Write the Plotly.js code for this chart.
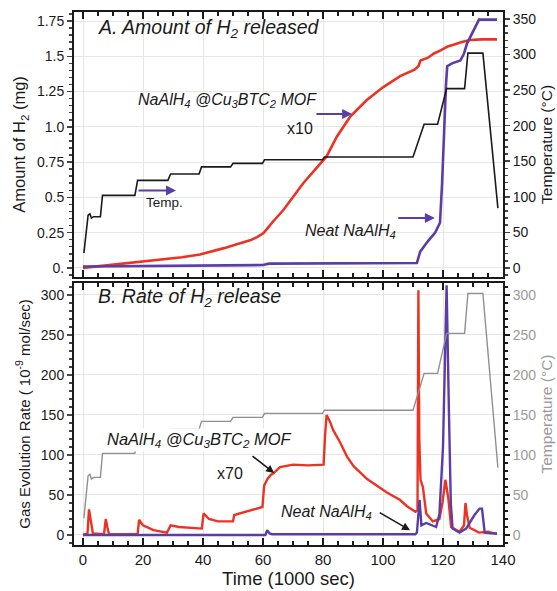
<!DOCTYPE html>
<html>
<head>
<meta charset="utf-8">
<script src="https://cdn.plot.ly/plotly-3.0.1.min.js"></script>
<style>html,body{margin:0;padding:0;background:#fff;}#chart{width:557px;height:591px;}</style>
</head>
<body>
<div id="chart"></div>
<script>
// ---------- DATA ----------
// Temperature program (°C) vs time (1000 s)
const tempTime = [0.3, 1.7, 2.3, 2.8, 3.5, 5.8, 6.5, 17.3, 18.2, 28.3, 29.2, 38.7, 39.5, 49.2, 50, 59.8, 60.5, 79.8, 80.5, 110, 113.7, 118.2, 121.2, 127.2, 128.3, 133.3, 138.3];
const tempVal  = [21, 74, 76, 70, 72, 72, 102, 102, 123, 123, 132, 132, 142, 142, 147, 147, 152, 152, 156, 156, 202, 202, 252, 252, 302, 302, 84];

// Panel A: amount of H2 released (mg)
const mofAmtTime = [0, 5, 10, 17, 25, 33, 39, 43, 47, 51, 55.7, 58, 60.1, 61.5, 63, 66.8, 70, 73.4, 77.5, 81.2, 84.6, 89, 94.6, 100, 105.7, 110.5, 111.8, 112.5, 115, 117, 119.5, 121.6, 124, 126, 129, 133, 138];
const mofAmt     = [0.0, 0.012, 0.022, 0.04, 0.055, 0.075, 0.095, 0.115, 0.14, 0.165, 0.195, 0.218, 0.245, 0.28, 0.32, 0.41, 0.5, 0.6, 0.7, 0.79, 0.93, 1.07, 1.19, 1.28, 1.36, 1.405, 1.43, 1.47, 1.49, 1.52, 1.545, 1.57, 1.585, 1.6, 1.615, 1.62, 1.62];

const neatAmtTime = [0, 20, 40, 60, 62, 80, 100, 111.3, 112.4, 115, 117.4, 119, 119.7, 120.3, 121, 121.4, 123, 125.8, 127, 128, 130, 132, 134, 138];
const neatAmt     = [0.01, 0.012, 0.015, 0.02, 0.03, 0.032, 0.034, 0.035, 0.115, 0.19, 0.25, 0.32, 0.6, 0.95, 1.3, 1.43, 1.45, 1.47, 1.52, 1.59, 1.68, 1.76, 1.76, 1.76];

// Panel B: gas evolution rate (1e-9 mol/s)
const mofRateTime = [0, 1.5, 2, 2.5, 3.3, 7, 7.6, 8.2, 8.7, 18.2, 18.7, 20, 23.5, 28, 29.2, 32, 38, 39.6, 40.2, 42, 45, 50, 50.4, 55, 59.8, 60.4, 61.5, 62.6, 63.5, 65.7, 70, 75, 80.2, 80.7, 81.2, 82.3, 83.4, 85.8, 88, 90.2, 94.7, 101.3, 105.6, 108, 110.8, 111.5, 111.8, 112.1, 112.5, 113.3, 114.4, 116.6, 118.8, 119.8, 120.8, 121.8, 122.7, 125.5, 127, 127.5, 128, 128.9, 132, 135, 138];
const mofRate     = [0, 2, 32, 20, 2, 1, 20, 8, 1, 1, 19, 12, 6, 3, 12, 10, 8, 8, 27, 20, 17, 17, 25, 30, 35, 62, 70, 75, 77, 85, 88, 87, 88, 125, 150, 142, 131, 115, 98, 86, 70, 53, 44, 36, 29, 31, 306, 120, 69, 60, 27, 17, 20, 40, 69, 45, 10, 4, 12, 40, 25, 9, 3, 4, 1];

const neatRateTime = [0, 60.8, 61.4, 62.2, 63, 80, 100, 110.8, 111.3, 112.2, 112.8, 114.4, 117.7, 118.8, 120, 121.2, 122, 122.6, 123.2, 125.5, 127.7, 130.5, 132.2, 133, 133.9, 136, 138];
const neatRate     = [0, 0, 6, 2, 1, 1, 1, 1, 3, 44, 12, 15, 10, 26, 110, 312, 150, 40, 8, 3, 8, 25, 33, 33, 3, 2, 2];

const xTicks = [0, 20, 40, 60, 80, 100, 120, 140];
const amtTickVals = [0, 0.25, 0.5, 0.75, 1.0, 1.25, 1.5, 1.75];
const amtTickText = ['0.', '0.25', '0.5', '0.75', '1.0', '1.25', '1.5', '1.75'];
const tempTicksA = [0, 50, 100, 150, 200, 250, 300, 350];
const rateTicks = [0, 50, 100, 150, 200, 250, 300];

// ---------- STYLE ----------
const RED = '#ec3323', PURPLE = '#5a3ea6', BLACK = '#1a1a1a', GRAY = '#8f8f8f', LGRAY = '#9a9a9a';
const FONT = 'Liberation Sans, Arial, Helvetica, sans-serif';
const GRID = '#e6e6e6';

const traces = [
  {x: mofAmtTime, y: mofAmt, xaxis: 'x', yaxis: 'y', mode: 'lines', line: {color: RED, width: 2.6}},
  {x: neatAmtTime, y: neatAmt, xaxis: 'x', yaxis: 'y', mode: 'lines', line: {color: PURPLE, width: 2.6}},
  {x: tempTime, y: tempVal, xaxis: 'x', yaxis: 'y2', mode: 'lines', line: {color: BLACK, width: 1.6}},
  {x: mofRateTime, y: mofRate, xaxis: 'x2', yaxis: 'y3', mode: 'lines', line: {color: RED, width: 2.4}},
  {x: neatRateTime, y: neatRate, xaxis: 'x2', yaxis: 'y3', mode: 'lines', line: {color: PURPLE, width: 2.4}},
  {x: tempTime, y: tempVal, xaxis: 'x2', yaxis: 'y4', mode: 'lines', line: {color: GRAY, width: 1.4}}
];

const xCommon = {
  range: [-3, 140], tickvals: xTicks, showgrid: true, gridcolor: GRID, gridwidth: 1,
  zeroline: false, showline: true, linecolor: BLACK, linewidth: 2, mirror: 'ticks',
  ticks: 'inside', ticklen: 7, tickwidth: 1.5, tickcolor: BLACK,
  minor: {dtick: 5, tick0: 0, ticks: 'inside', ticklen: 4, tickcolor: BLACK, showgrid: false}
};

const layout = {
  width: 557, height: 591,
  margin: {l: 74, r: 54, t: 12, b: 46},
  paper_bgcolor: '#fff', plot_bgcolor: '#fff',
  showlegend: false,
  font: {family: FONT, color: BLACK, size: 14},
  xaxis: Object.assign({}, xCommon, {anchor: 'y', showticklabels: false, domain: [0, 1]}),
  xaxis2: Object.assign({}, xCommon, {anchor: 'y3', domain: [0, 1], showticklabels: true,
    tickfont: {size: 15, color: BLACK},
    title: {text: 'Time (1000 sec)', font: {size: 18.5, color: BLACK}, standoff: 5}}),
  yaxis: {
    domain: [0.503, 1], anchor: 'x', range: [-0.064, 1.814],
    tickvals: amtTickVals, ticktext: amtTickText, tickfont: {size: 14},
    showgrid: true, gridcolor: GRID, zeroline: false,
    showline: true, linecolor: BLACK, linewidth: 2, ticks: 'outside', ticklen: 5, tickwidth: 1.5,
    minor: {dtick: 0.05, tick0: 0, ticks: 'outside', ticklen: 3, showgrid: false},
    title: {text: 'Amount of H<sub>2</sub> (mg)', font: {size: 16.5}, standoff: 7}
  },
  yaxis2: {
    overlaying: 'y', side: 'right', anchor: 'x', range: [-12.65, 359.8],
    tickvals: tempTicksA, tickfont: {size: 14, color: BLACK},
    showgrid: false, zeroline: false, showline: true, linecolor: BLACK, linewidth: 2,
    ticks: 'outside', ticklen: 5, tickwidth: 1.5,
    minor: {dtick: 10, tick0: 0, ticks: 'outside', ticklen: 3},
    title: {text: 'Temperature (°C)', font: {size: 15.5, color: BLACK}, standoff: 6}
  },
  yaxis3: {
    domain: [0, 0.4916], anchor: 'x2', range: [-12.5, 315],
    tickvals: rateTicks, tickfont: {size: 14},
    showgrid: true, gridcolor: GRID, zeroline: false,
    showline: true, linecolor: BLACK, linewidth: 2, ticks: 'outside', ticklen: 5, tickwidth: 1.5,
    minor: {dtick: 10, tick0: 0, ticks: 'outside', ticklen: 3, showgrid: false},
    title: {text: 'Gas Evolution Rate ( 10<sup>-9</sup> mol/sec)', font: {size: 15}, standoff: 7}
  },
  yaxis4: {
    overlaying: 'y3', side: 'right', anchor: 'x2', range: [-12.5, 315],
    tickvals: rateTicks, tickfont: {size: 14, color: LGRAY},
    showgrid: false, zeroline: false, showline: true, linecolor: BLACK, linewidth: 2,
    ticks: 'outside', ticklen: 5, tickwidth: 1.5, tickcolor: BLACK,
    minor: {dtick: 10, tick0: 0, ticks: 'outside', ticklen: 3, tickcolor: BLACK},
    title: {text: 'Temperature (°C)', font: {size: 15.5, color: LGRAY}, standoff: 6}
  },
  annotations: [
    // Panel A
    {xref: 'x', yref: 'y', x: 4.3, y: 1.70, xanchor: 'left', yanchor: 'middle', showarrow: false,
     text: '<i>A. Amount of H<sub>2</sub> released</i>', font: {size: 19.5, color: BLACK}},
    {xref: 'x', yref: 'y', x: 17.7, y: 1.19, xanchor: 'left', yanchor: 'middle', showarrow: false,
     text: '<i>NaAlH<sub>4</sub> @Cu<sub>3</sub>BTC<sub>2</sub> MOF</i>', font: {size: 16, color: BLACK}},
    {xref: 'x', yref: 'y', x: 72.3, y: 0.99, showarrow: false, text: 'x10', font: {size: 16, color: BLACK}},
    {xref: 'x', yref: 'y', x: 89.7, y: 1.09, axref: 'x', ayref: 'y', ax: 77.3, ay: 1.09, text: '',
     showarrow: true, arrowhead: 2, arrowsize: 1, arrowwidth: 2, arrowcolor: PURPLE},
    {xref: 'x', yref: 'y', x: 27.3, y: 0.46, showarrow: false, text: 'Temp.', font: {size: 13.5, color: BLACK}},
    {xref: 'x', yref: 'y', x: 31, y: 0.548, axref: 'x', ayref: 'y', ax: 18, ay: 0.548, text: '',
     showarrow: true, arrowhead: 2, arrowsize: 1, arrowwidth: 2, arrowcolor: PURPLE},
    {xref: 'x', yref: 'y', x: 89.3, y: 0.255, showarrow: false,
     text: '<i>Neat NaAlH<sub>4</sub></i>', font: {size: 16, color: BLACK}},
    {xref: 'x', yref: 'y', x: 117.3, y: 0.354, axref: 'x', ayref: 'y', ax: 104.6, ay: 0.354, text: '',
     showarrow: true, arrowhead: 2, arrowsize: 1, arrowwidth: 2, arrowcolor: PURPLE},
    // Panel B
    {xref: 'x2', yref: 'y3', x: 4.3, y: 297, xanchor: 'left', yanchor: 'middle', showarrow: false,
     text: '<i>B. Rate of H<sub>2</sub> release</i>', font: {size: 19.5, color: BLACK}},
    {xref: 'x2', yref: 'y3', x: 7.3, y: 119, xanchor: 'left', yanchor: 'middle', showarrow: false,
     bgcolor: '#ffffff', borderpad: 1,
     text: '<i>NaAlH<sub>4</sub> @Cu<sub>3</sub>BTC<sub>2</sub> MOF</i>', font: {size: 16.5, color: BLACK}},
    {xref: 'x2', yref: 'y3', x: 49, y: 77, showarrow: false, text: 'x70', font: {size: 16, color: BLACK}},
    {xref: 'x2', yref: 'y3', x: 63.7, y: 77.5, axref: 'x2', ayref: 'y3', ax: 56, ay: 100, text: '',
     showarrow: true, arrowhead: 2, arrowsize: 1, arrowwidth: 1.6, arrowcolor: BLACK},
    {xref: 'x2', yref: 'y3', x: 81.2, y: 27.5, showarrow: false,
     text: '<i>Neat NaAlH<sub>4</sub></i>', font: {size: 16, color: BLACK}},
    {xref: 'x2', yref: 'y3', x: 109, y: 6, axref: 'x2', ayref: 'y3', ax: 98.4, ay: 29, text: '',
     showarrow: true, arrowhead: 2, arrowsize: 1, arrowwidth: 1.6, arrowcolor: BLACK}
  ]
};

Plotly.newPlot('chart', traces, layout, {staticPlot: true, displayModeBar: false});
</script>
</body>
</html>
